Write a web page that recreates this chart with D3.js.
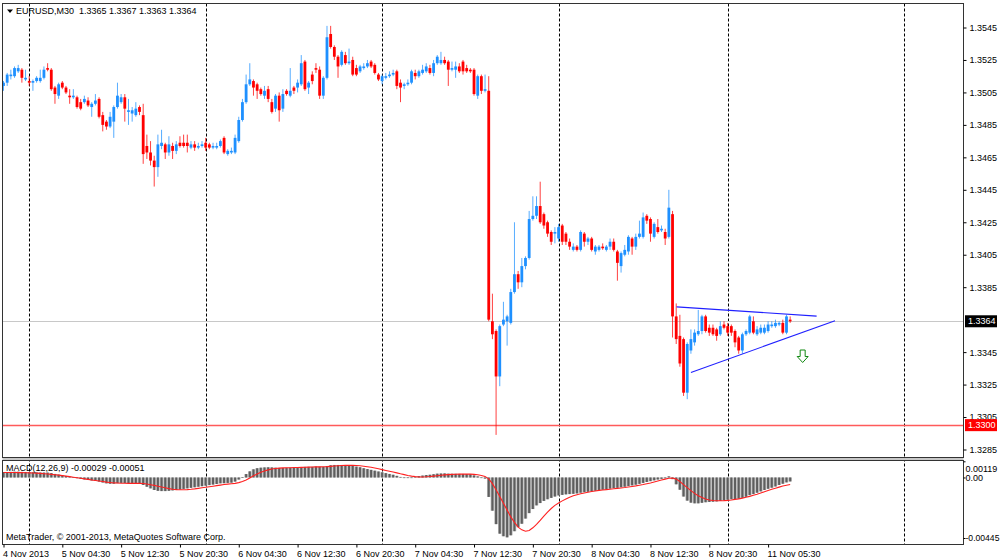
<!DOCTYPE html>
<html><head><meta charset="utf-8">
<script src="https://cdn.jsdelivr.net/npm/d3@7"></script>
<style>
body{margin:0;background:#fff}
svg{display:block}
text{font-family:"Liberation Sans",Arial,sans-serif;font-size:9px;fill:#000}
</style>
</head><body>
<svg id="c" width="1000" height="560"></svg>
<script>
// ---------------- DATA (EURUSD M30) ----------------
const open=[
1.3509,1.3511,1.3515,1.3515,1.3518,1.3519,1.3513,1.3512,1.3511,1.3512,
1.3512,1.3514,1.3520,1.3519,1.3508,1.3503,1.3511,1.3508,1.3503,1.3502,
1.3502,1.3499,1.3499,1.3500,1.3496,1.3498,1.3501,1.3491,1.3487,1.3484,
1.3487,1.3496,1.3499,1.3502,1.3493,1.3492,1.3491,1.3496,1.3491,1.3472,
1.3468,1.3463,1.3459,1.3472,1.3473,1.3468,1.3472,1.3469,1.3474,1.3474,
1.3474,1.3471,1.3473,1.3471,1.3472,1.3474,1.3473,1.3471,1.3471,1.3472,
1.3477,1.3467,1.3468,1.3468,1.3475,1.3488,1.3499,1.3510,1.3512,1.3510,
1.3507,1.3503,1.3507,1.3499,1.3495,1.3503,1.3495,1.3506,1.3503,1.3508,
1.3508,1.3510,1.3524,1.3508,1.3516,1.3520,1.3519,1.3503,1.3514,1.3541,
1.3533,1.3527,1.3522,1.3528,1.3523,1.3525,1.3520,1.3518,1.3520,1.3521,
1.3524,1.3522,1.3516,1.3512,1.3514,1.3515,1.3516,1.3518,1.3511,1.3509,
1.3510,1.3511,1.3517,1.3515,1.3517,1.3518,1.3520,1.3517,1.3523,1.3523,
1.3525,1.3524,1.3519,1.3519,1.3521,1.3524,1.3520,1.3519,1.3519,1.3503,
1.3515,1.3506,1.3506,1.3364,1.3358,1.3330,1.3362,1.3364,1.3363,1.3382,
1.3393,1.3388,1.3398,1.3403,1.3427,1.3429,1.3435,1.3430,1.3425,1.3419,
1.3418,1.3415,1.3423,1.3418,1.3413,1.3408,1.3410,1.3408,1.3418,1.3413,
1.3415,1.3407,1.3408,1.3410,1.3408,1.3410,1.3413,1.3407,1.3398,1.3405,
1.3407,1.3415,1.3410,1.3416,1.3416,1.3429,1.3427,1.3416,1.3422,1.3420,
1.3419,1.3416,1.3430,1.3367,1.3355,1.3353,1.3320,1.3346,1.3351,1.3356,
1.3358,1.3367,1.3360,1.3360,1.3359,1.3356,1.3362,1.3361,1.3361,1.3358,
1.3354,1.3346,1.3356,1.3357,1.3364,1.3356,1.3357,1.3357,1.3358,1.3361,
1.3361,1.3362,1.3363,1.3357,1.3365];
const high=[
1.3512,1.3517,1.3519,1.3521,1.3522,1.3520,1.3519,1.3515,1.3513,1.3515,
1.3519,1.3521,1.3523,1.3520,1.3509,1.3511,1.3512,1.3509,1.3507,1.3507,
1.3503,1.3501,1.3503,1.3502,1.3499,1.3504,1.3502,1.3493,1.3488,1.3493,
1.3497,1.3511,1.3504,1.3504,1.3501,1.3496,1.3499,1.3497,1.3498,1.3479,
1.3475,1.3466,1.3479,1.3482,1.3474,1.3478,1.3474,1.3475,1.3478,1.3479,
1.3479,1.3475,1.3475,1.3474,1.3475,1.3477,1.3474,1.3474,1.3474,1.3476,
1.3478,1.3470,1.3471,1.3479,1.3490,1.3501,1.3516,1.3523,1.3513,1.3511,
1.3508,1.3509,1.3509,1.3501,1.3504,1.3505,1.3507,1.3507,1.3520,1.3509,
1.3513,1.3528,1.3525,1.3512,1.3518,1.3523,1.3521,1.3515,1.3546,1.3546,
1.3534,1.3528,1.3531,1.3530,1.3532,1.3527,1.3522,1.3522,1.3523,1.3525,
1.3525,1.3523,1.3517,1.3516,1.3517,1.3518,1.3519,1.3519,1.3513,1.3511,
1.3513,1.3519,1.3519,1.3519,1.3522,1.3523,1.3522,1.3525,1.3528,1.3530,
1.3527,1.3525,1.3524,1.3524,1.3523,1.3525,1.3522,1.3520,1.3520,1.3516,
1.3516,1.3516,1.3515,1.3381,1.3359,1.3362,1.3376,1.3368,1.3384,1.3425,
1.3395,1.3403,1.3404,1.3432,1.3441,1.3441,1.3450,1.3431,1.3426,1.3420,
1.3422,1.3424,1.3424,1.3419,1.3415,1.3412,1.3411,1.3420,1.3419,1.3416,
1.3416,1.3411,1.3411,1.3412,1.3411,1.3415,1.3415,1.3408,1.3407,1.3411,
1.3417,1.3416,1.3418,1.3426,1.3431,1.3430,1.3428,1.3425,1.3427,1.3423,
1.3421,1.3445,1.3432,1.3375,1.3368,1.3354,1.3351,1.3359,1.3359,1.3371,
1.3368,1.3368,1.3362,1.3362,1.3360,1.3364,1.3364,1.3363,1.3362,1.3359,
1.3355,1.3357,1.3359,1.3368,1.3367,1.3361,1.3362,1.3362,1.3364,1.3364,
1.3365,1.3364,1.3365,1.3368,1.3367];
const low=[
1.3506,1.3509,1.3513,1.3514,1.3517,1.3511,1.3512,1.3509,1.3506,1.3511,
1.3511,1.3513,1.3518,1.3506,1.3498,1.3501,1.3507,1.3504,1.3498,1.3501,
1.3495,1.3494,1.3498,1.3496,1.3490,1.3497,1.3489,1.3481,1.3482,1.3483,
1.3477,1.3495,1.3498,1.3487,1.3485,1.3487,1.3490,1.3491,1.3461,1.3464,
1.3460,1.3447,1.3453,1.3470,1.3464,1.3466,1.3464,1.3467,1.3471,1.3471,
1.3468,1.3470,1.3469,1.3470,1.3471,1.3469,1.3470,1.3470,1.3470,1.3471,
1.3467,1.3466,1.3467,1.3467,1.3474,1.3487,1.3498,1.3509,1.3503,1.3501,
1.3503,1.3501,1.3499,1.3492,1.3493,1.3487,1.3493,1.3503,1.3502,1.3504,
1.3505,1.3509,1.3506,1.3504,1.3510,1.3517,1.3501,1.3501,1.3513,1.3532,
1.3525,1.3514,1.3521,1.3522,1.3522,1.3515,1.3515,1.3517,1.3519,1.3520,
1.3520,1.3516,1.3512,1.3510,1.3513,1.3514,1.3515,1.3507,1.3499,1.3507,
1.3509,1.3510,1.3513,1.3514,1.3516,1.3517,1.3516,1.3515,1.3522,1.3522,
1.3522,1.3509,1.3518,1.3514,1.3517,1.3516,1.3517,1.3517,1.3503,1.3501,
1.3504,1.3505,1.3364,1.3353,1.3294,1.3324,1.3361,1.3349,1.3362,1.3381,
1.3384,1.3385,1.3396,1.3402,1.3426,1.3427,1.3424,1.3421,1.3416,1.3411,
1.3412,1.3413,1.3411,1.3411,1.3408,1.3407,1.3407,1.3407,1.3410,1.3411,
1.3407,1.3405,1.3407,1.3408,1.3407,1.3408,1.3407,1.3389,1.3394,1.3404,
1.3405,1.3405,1.3408,1.3415,1.3415,1.3424,1.3413,1.3415,1.3418,1.3419,
1.3411,1.3415,1.3354,1.3350,1.3336,1.3318,1.3316,1.3344,1.3349,1.3355,
1.3356,1.3357,1.3355,1.3355,1.3352,1.3355,1.3359,1.3355,1.3355,1.3348,
1.3344,1.3344,1.3355,1.3356,1.3356,1.3355,1.3356,1.3356,1.3357,1.3360,
1.3360,1.3361,1.3356,1.3356,1.3363];
const close=[
1.3511,1.3516,1.3516,1.3520,1.3520,1.3514,1.3514,1.3511,1.3512,1.3514,
1.3514,1.3519,1.3519,1.3507,1.3504,1.3510,1.3508,1.3505,1.3502,1.3503,
1.3496,1.3495,1.3501,1.3497,1.3498,1.3500,1.3490,1.3485,1.3484,1.3490,
1.3496,1.3503,1.3502,1.3495,1.3494,1.3494,1.3495,1.3493,1.3467,1.3468,
1.3463,1.3459,1.3473,1.3474,1.3468,1.3473,1.3469,1.3473,1.3472,1.3472,
1.3472,1.3473,1.3471,1.3472,1.3473,1.3471,1.3471,1.3472,1.3472,1.3475,
1.3468,1.3469,1.3469,1.3477,1.3488,1.3499,1.3510,1.3513,1.3508,1.3506,
1.3504,1.3506,1.3501,1.3493,1.3503,1.3494,1.3504,1.3504,1.3506,1.3506,
1.3511,1.3523,1.3507,1.3511,1.3512,1.3519,1.3503,1.3514,1.3539,1.3533,
1.3527,1.3521,1.3530,1.3523,1.3524,1.3516,1.3516,1.3521,1.3521,1.3523,
1.3521,1.3517,1.3513,1.3515,1.3515,1.3516,1.3517,1.3509,1.3508,1.3510,
1.3511,1.3518,1.3515,1.3518,1.3519,1.3521,1.3517,1.3523,1.3527,1.3525,
1.3523,1.3519,1.3520,1.3521,1.3518,1.3518,1.3518,1.3518,1.3504,1.3515,
1.3506,1.3507,1.3365,1.3356,1.3330,1.3361,1.3365,1.3367,1.3382,1.3393,
1.3388,1.3398,1.3403,1.3427,1.3429,1.3435,1.3425,1.3423,1.3418,1.3413,
1.3419,1.3422,1.3413,1.3413,1.3410,1.3410,1.3408,1.3419,1.3413,1.3415,
1.3408,1.3410,1.3410,1.3409,1.3410,1.3413,1.3408,1.3400,1.3406,1.3408,
1.3416,1.3410,1.3416,1.3418,1.3428,1.3426,1.3418,1.3424,1.3419,1.3421,
1.3415,1.3434,1.3367,1.3353,1.3338,1.3320,1.3350,1.3353,1.3357,1.3358,
1.3367,1.3358,1.3357,1.3356,1.3355,1.3361,1.3360,1.3357,1.3357,1.3351,
1.3346,1.3356,1.3358,1.3367,1.3357,1.3359,1.3360,1.3360,1.3362,1.3362,
1.3363,1.3363,1.3357,1.3367,1.3364];
const macdMain=[
0.00040,0.00040,0.00041,0.00042,0.00042,0.00041,0.00040,0.00039,0.00038,0.00037,0.00036,0.00036,0.00036,0.00032,0.00026,
0.00021,0.00016,0.00011,0.00006,0.00001,-0.00005,-0.00010,-0.00014,-0.00018,-0.00022,-0.00025,-0.00030,-0.00037,-0.00043,-0.00046,
-0.00046,-0.00042,-0.00040,-0.00041,-0.00042,-0.00042,-0.00042,-0.00042,-0.00055,-0.00068,-0.00080,-0.00092,-0.00098,-0.00100,-0.00100,
-0.00098,-0.00095,-0.00092,-0.00088,-0.00084,-0.00080,-0.00076,-0.00072,-0.00068,-0.00064,-0.00060,-0.00056,-0.00052,-0.00048,-0.00043,
-0.00042,-0.00040,-0.00038,-0.00030,-0.00015,0.00002,0.00025,0.00045,0.00060,0.00068,0.00072,0.00074,0.00075,0.00074,0.00072,
0.00070,0.00070,0.00071,0.00072,0.00073,0.00074,0.00076,0.00078,0.00078,0.00078,0.00080,0.00079,0.00078,0.00084,0.00090,
0.00092,0.00092,0.00092,0.00090,0.00088,0.00085,0.00080,0.00075,0.00068,0.00062,0.00056,0.00050,0.00044,0.00038,0.00032,
0.00026,0.00020,0.00012,0.00004,0.00000,-0.00003,0.00000,0.00005,0.00010,0.00014,0.00018,0.00020,0.00024,0.00028,0.00029,
0.00030,0.00028,0.00027,0.00027,0.00026,0.00026,0.00025,0.00024,0.00015,0.00008,0.00000,-0.00008,-0.00143,-0.00244,-0.00343,
-0.00413,-0.00432,-0.00440,-0.00425,-0.00395,-0.00365,-0.00340,-0.00302,-0.00262,-0.00232,-0.00205,-0.00188,-0.00172,-0.00160,-0.00150,
-0.00140,-0.00132,-0.00128,-0.00124,-0.00122,-0.00120,-0.00117,-0.00112,-0.00108,-0.00105,-0.00102,-0.00098,-0.00094,-0.00090,-0.00086,
-0.00082,-0.00078,-0.00076,-0.00072,-0.00068,-0.00063,-0.00058,-0.00053,-0.00047,-0.00040,-0.00033,-0.00027,-0.00021,-0.00015,-0.00010,
-0.00006,0.00008,-0.00012,-0.00050,-0.00090,-0.00140,-0.00170,-0.00185,-0.00190,-0.00190,-0.00186,-0.00182,-0.00180,-0.00178,-0.00176,
-0.00172,-0.00168,-0.00164,-0.00160,-0.00158,-0.00156,-0.00150,-0.00142,-0.00130,-0.00122,-0.00112,-0.00102,-0.00092,-0.00083,-0.00075,
-0.00066,-0.00055,-0.00046,-0.00036,-0.00029];
const macdSignal=[
0.00037,0.00037,0.00037,0.00037,0.00036,0.00036,0.00035,0.00034,0.00033,0.00032,0.00030,0.00028,0.00026,0.00023,0.00020,
0.00017,0.00014,0.00010,0.00006,0.00002,-0.00002,-0.00006,-0.00010,-0.00014,-0.00018,-0.00022,-0.00026,-0.00030,-0.00034,-0.00037,
-0.00040,-0.00041,-0.00042,-0.00042,-0.00043,-0.00043,-0.00043,-0.00043,-0.00044,-0.00048,-0.00053,-0.00058,-0.00064,-0.00070,-0.00076,
-0.00082,-0.00086,-0.00089,-0.00090,-0.00090,-0.00089,-0.00087,-0.00084,-0.00080,-0.00076,-0.00072,-0.00068,-0.00064,-0.00060,-0.00056,
-0.00052,-0.00049,-0.00046,-0.00043,-0.00038,-0.00030,-0.00018,-0.00004,0.00012,0.00026,0.00038,0.00048,0.00056,0.00062,0.00066,
0.00069,0.00071,0.00072,0.00072,0.00073,0.00073,0.00074,0.00075,0.00076,0.00077,0.00078,0.00078,0.00079,0.00080,0.00082,
0.00084,0.00086,0.00088,0.00089,0.00089,0.00089,0.00088,0.00086,0.00083,0.00079,0.00075,0.00070,0.00064,0.00058,0.00052,
0.00046,0.00040,0.00034,0.00027,0.00021,0.00015,0.00010,0.00006,0.00004,0.00004,0.00005,0.00007,0.00010,0.00013,0.00016,
0.00019,0.00021,0.00023,0.00024,0.00025,0.00025,0.00025,0.00025,0.00023,0.00020,0.00015,0.00008,-0.00010,-0.00045,-0.00090,
-0.00140,-0.00190,-0.00240,-0.00290,-0.00330,-0.00365,-0.00385,-0.00395,-0.00390,-0.00370,-0.00345,-0.00315,-0.00285,-0.00255,-0.00228,
-0.00205,-0.00188,-0.00172,-0.00158,-0.00145,-0.00135,-0.00127,-0.00120,-0.00114,-0.00108,-0.00103,-0.00099,-0.00095,-0.00092,-0.00089,
-0.00086,-0.00083,-0.00080,-0.00077,-0.00074,-0.00070,-0.00066,-0.00062,-0.00057,-0.00052,-0.00046,-0.00040,-0.00033,-0.00026,-0.00019,
-0.00012,-0.00006,-0.00004,-0.00012,-0.00030,-0.00052,-0.00075,-0.00097,-0.00117,-0.00134,-0.00148,-0.00158,-0.00165,-0.00169,-0.00171,
-0.00171,-0.00170,-0.00168,-0.00165,-0.00161,-0.00157,-0.00152,-0.00146,-0.00139,-0.00131,-0.00123,-0.00114,-0.00105,-0.00096,-0.00087,
-0.00079,-0.00071,-0.00063,-0.00057,-0.00051];
const priceTicks=[1.3545,1.3525,1.3505,1.3485,1.3465,1.3445,1.3425,1.3405,1.3385,1.3345,1.3325,1.3305,1.3285];
const macdTicks=[0.00119,0,-0.00445];
const timeLabelBars=[0,16,32,48,64,80,96,112,128,144,160,176,192,208];
const timeLabels=["4 Nov 2013","5 Nov 04:30","5 Nov 12:30","5 Nov 20:30","6 Nov 04:30","6 Nov 12:30","6 Nov 20:30",
  "7 Nov 04:30","7 Nov 12:30","7 Nov 20:30","8 Nov 04:30","8 Nov 12:30","8 Nov 20:30","11 Nov 05:30"];
const midnightBars=[7,55,103,151,197,245];
const bidPrice=1.3364;
const levelPrice=1.3300;
const trendUpper=[[183.1,1.33729],[221.2,1.33672]];
const trendLower=[[187.0,1.33325],[226.2,1.33643]];
const arrowMark=[217.4,1.33463];

// ---------------- LAYOUT ----------------
const L=2.5, R=963.5, PT=3.5, PB=457.5, MT=460.5, MB=544.5;
const svg=d3.select("#c");
const x=d3.scaleLinear().domain([0,261]).range([3.5,3.5+261*3.676]);
const y=d3.scaleLinear().domain([1.3285,1.3545]).range([449.5,27.5]);
const ym=d3.scaleLinear().domain([-0.00445,0.00119]).range([538,461.3]);
const n=close.length, last=n-1;
const f4=v=>v.toFixed(4), f5=v=>v.toFixed(5);
const FONT="Liberation Sans, Arial, sans-serif";

svg.append("rect").attr("width",1000).attr("height",560).attr("fill","#fff");
const defs=svg.append("defs");
defs.append("clipPath").attr("id","cp").append("rect").attr("x",L).attr("y",PT).attr("width",R-L).attr("height",PB-PT);
defs.append("clipPath").attr("id","cm").append("rect").attr("x",L).attr("y",MT).attr("width",R-L).attr("height",MB-MT);

// midnight grid
svg.append("g").selectAll("line").data(midnightBars).join("line")
  .attr("x1",d=>Math.round(x(d))+0.5).attr("x2",d=>Math.round(x(d))+0.5)
  .attr("y1",PT).attr("y2",MB).style("stroke","#000").attr("stroke-dasharray","3,2");

// price pane
const gp=svg.append("g").attr("clip-path","url(#cp)");
gp.append("line").attr("x1",L).attr("x2",R).attr("y1",Math.round(y(bidPrice))+0.5).attr("y2",Math.round(y(bidPrice))+0.5)
  .style("stroke","#c8c8c8").style("stroke-width","1px");
gp.append("line").attr("x1",L).attr("x2",R).attr("y1",Math.round(y(levelPrice))+0.5).attr("y2",Math.round(y(levelPrice))+0.5)
  .style("stroke","#ff5a5a").style("stroke-width","1.3px");
const idx=d3.range(n);
const col=i=>close[i]>=open[i]?"#1e90ff":"#ff0000";
gp.append("g").selectAll("line").data(idx).join("line")
  .attr("x1",i=>x(i)).attr("x2",i=>x(i)).attr("y1",i=>y(high[i])).attr("y2",i=>y(low[i]))
  .style("stroke",col).attr("stroke-width",1).attr("stroke-opacity",0.75);
gp.append("g").selectAll("rect").data(idx).join("rect")
  .attr("x",i=>x(i)-1.4).attr("width",2.8)
  .attr("y",i=>y(Math.max(open[i],close[i])))
  .attr("height",i=>Math.max(1,Math.abs(y(open[i])-y(close[i]))))
  .attr("fill",col);
const tl=d3.line().x(d=>x(d[0])).y(d=>y(d[1]));
[trendUpper,trendLower].forEach(t=>gp.append("path").attr("d",tl(t)).attr("fill","none").style("stroke","#2020ff").attr("stroke-width",1.1));
gp.append("path").attr("transform",`translate(${x(arrowMark[0])},${y(arrowMark[1])})`)
  .attr("d","M-2.5,0H2.5V6.5H5.5L0,12.5L-5.5,6.5H-2.5Z")
  .attr("fill","none").style("stroke","#118811").attr("stroke-width",1);

// MACD pane
const gm=svg.append("g").attr("clip-path","url(#cm)");
const barH=i=>Math.max(0.6,Math.abs(ym(macdMain[i])-ym(0)));
const barY=i=>Math.min(ym(0),ym(macdMain[i]));
gm.append("g").selectAll("rect").data(idx).join("rect")
  .attr("x",i=>x(i)-1.75).attr("width",3.5).attr("y",barY).attr("height",barH).attr("fill","#b4b4b4");
gm.append("g").selectAll("rect").data(idx).join("rect")
  .attr("x",i=>x(i)-1).attr("width",2).attr("y",barY).attr("height",barH).attr("fill","#5e5e5e");
gm.append("path").attr("d",d3.line().x((d,i)=>x(i)).y(d=>ym(d))(macdSignal))
  .attr("fill","none").style("stroke","#ff2020").attr("stroke-width",1.1);

// frames
svg.append("rect").attr("x",L).attr("y",PB).attr("width",R-L).attr("height",MT-PB).attr("fill","#c8c8c8");
svg.append("rect").attr("x",L).attr("y",PT).attr("width",R-L).attr("height",PB-PT).attr("fill","none").style("stroke","#333");
svg.append("rect").attr("x",L).attr("y",MT).attr("width",R-L).attr("height",MB-MT).attr("fill","none").style("stroke","#333");

// axes
const ay=svg.append("g").attr("transform",`translate(${R},0)`)
  .call(d3.axisRight(y).tickValues(priceTicks).tickSize(3).tickPadding(3).tickFormat(f4));
ay.select(".domain").remove();
ay.selectAll("text").style("font-family",FONT).style("font-size","9px");
const am=svg.append("g").attr("transform",`translate(${R},0)`)
  .call(d3.axisRight(ym).tickValues(macdTicks).tickSize(2).tickPadding(0).tickFormat(d=>d===0?"0.00":f5(d)));
am.select(".domain").remove();
am.selectAll("text").style("font-family",FONT).style("font-size",d=>d<0?"8.6px":"9px")
  .attr("dy",d=>d===macdTicks[0]?"1.1em":"0.32em");
const ax=svg.append("g").attr("transform",`translate(0,${MB})`)
  .call(d3.axisBottom(x).tickValues(timeLabelBars).tickSize(3).tickPadding(3).tickFormat((d,i)=>timeLabels[i]));
ax.select(".domain").remove();
ax.selectAll("text").attr("text-anchor","start").attr("x",-1)
  .style("font-family",FONT).style("font-size","9px");

// price tags
function tag(p,bg){
  const yy=y(p);
  svg.append("rect").attr("x",R+1.5).attr("y",yy-6).attr("width",32).attr("height",12).attr("fill",bg);
  svg.append("text").attr("x",R+4.5).attr("y",yy).attr("dy","0.34em").style("fill","#fff").text(f4(p));
}
tag(bidPrice,"#000");
tag(levelPrice,"#ff0000");

// labels
svg.append("path").attr("d","M7,9.5H13L10,13Z").attr("fill","#000");
svg.append("text").attr("x",16).attr("y",14).attr("xml:space","preserve")
  .text(`EURUSD,M30  ${f4(open[last])} ${f4(high[last])} ${f4(low[last])} ${f4(close[last])}`);
svg.append("text").attr("x",6).attr("y",471)
  .text(`MACD(12,26,9) ${f5(macdMain[last])} ${f5(macdSignal[last])}`);
svg.append("text").attr("x",6).attr("y",540).text("MetaTrader, © 2001-2013, MetaQuotes Software Corp.");
</script>
</body></html>
